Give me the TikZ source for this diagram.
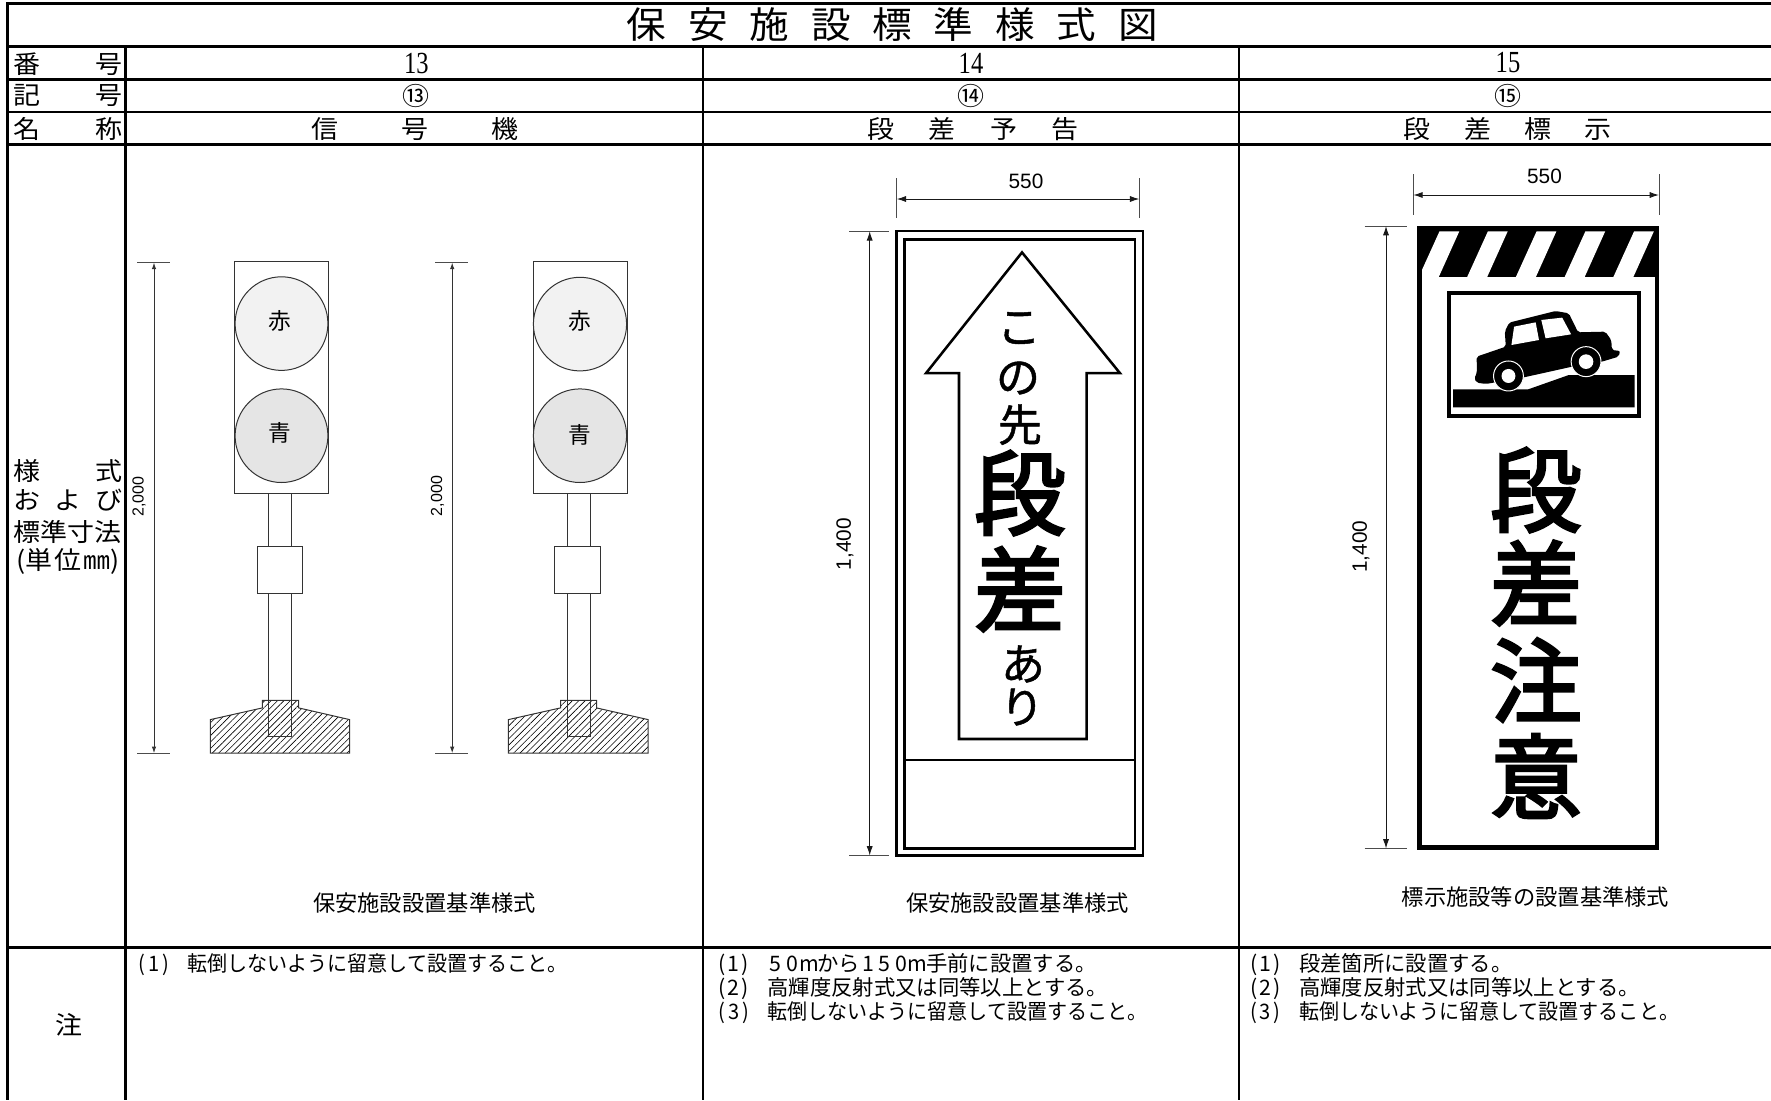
\documentclass[tikz,border=0pt]{standalone}
\usepackage{fontspec}
\setsansfont{Liberation Sans}
\newfontfamily\jp{Noto Sans CJK JP}
\newfontfamily\jpwide[FakeStretch=1.08]{Noto Sans CJK JP}
\newfontfamily\jpnarrow[FakeStretch=.94]{Noto Sans CJK JP}
\newfontfamily\jpsemi[FakeBold=1]{Noto Sans CJK JP}
\newfontfamily\jpheavy[FakeBold=3]{Noto Sans CJK JP}
\newfontfamily\digitfont{Liberation Serif}
\usetikzlibrary{arrows.meta}
\usetikzlibrary{patterns.meta}
\newcommand{\spread}[2]{\makebox[#1][s]{#2}}
\newcommand{\numcell}[1]{\makebox[38.5pt][l]{\makebox[8.8pt]{(}\makebox[8.8pt]{#1}\makebox[8.8pt]{)}}}
\newcommand{\wcell}[1]{\makebox[12.4pt]{#1}}
\tikzset{
  heavy/.style={line width=2.6pt},
  midrule/.style={line width=1.9pt},
  thinrule/.style={line width=1.5pt},
  part/.style={draw=black!80,line width=0.75pt},
  dimline/.style={black!80,line width=0.75pt,{Latex[length=5pt,width=3.4pt]}-{Latex[length=5pt,width=3.4pt]}},
  bigdim/.style={black!90,line width=0.75pt,{Latex[length=7pt,width=4.6pt]}-{Latex[length=7pt,width=4.6pt]}},
  ticks/.style={black!70,line width=0.75pt},
  head/.style={inner sep=0pt,font=\jpwide\fontsize{18.75}{20}\selectfont},
  digits/.style={inner sep=0pt,font=\digitfont\fontsize{23}{24}\selectfont},
  lamptext/.style={inner sep=0pt,font=\jp\fontsize{17}{18}\selectfont},
  dimtext/.style={inner sep=0pt,font=\sffamily\fontsize{15.6}{16}\selectfont},
  smalldim/.style={inner sep=0pt,font=\sffamily\fontsize{12}{13}\selectfont,rotate=90},
  caption/.style={inner sep=0pt,font=\jp\fontsize{16.7}{18}\selectfont},
  notetext/.style={inner sep=0pt,anchor=west,font=\jpnarrow\fontsize{16}{17}\selectfont},
  notewide/.style={notetext,font=\jp\fontsize{16}{17}\selectfont},
  signbig/.style={inner sep=0pt,font=\jpheavy\fontsize{69}{70}\selectfont},
  signsmall/.style={inner sep=0pt,font=\jpsemi\fontsize{33}{34}\selectfont},
  hatch/.style={pattern={Lines[angle=45,distance=3.4pt,line width=0.45pt]}},
}

\begin{document}
\begin{tikzpicture}[x=0.75pt,y=0.75pt,yscale=-1,xscale=1]
\fill [white] (0,0) rectangle (1771,1100);
\useasboundingbox (0,0) rectangle (1771,1100);

%Table rules
\draw [heavy] (1771,3.6) -- (7.3,3.6) -- (7.3,1100);
\draw [thinrule,line width=2.3pt] (7.3,46.4) -- (1771,46.4);
\draw [heavy] (7.3,79.6) -- (1771,79.6);
\draw [midrule,line width=1.6pt] (7.3,111.8) -- (1771,111.8);
\draw [heavy] (7.3,144.6) -- (1771,144.6);
\draw [midrule] (7.3,947.5) -- (1771,947.5);
\draw [midrule] (125.3,46.4) -- (125.3,1100);
\draw [midrule] (703,46.4) -- (703,1100);
\draw [midrule] (1239,46.4) -- (1239,1100);

% Header Text
\node [inner sep=0pt,font=\jpwide\fontsize{27.5}{28}\selectfont] (title) at (892.3,24.3) {\spread{398pt}{保\hfil 安\hfil 施\hfil 設\hfil 標\hfil 準\hfil 様\hfil 式\hfil 図}};
\node [head] (bango) at (68,64) {\spread{82.5pt}{番\hfil 号}};
\node [head] (kigo) at (68,95.7) {\spread{82.5pt}{記\hfil 号}};
\node [head] (meisho) at (68,128.6) {\spread{82.5pt}{名\hfil 称}};
\node [head] (yoshiki) at (68,471.4) {\spread{82.5pt}{様\hfil 式}};
\node [head] (oyobi) at (68,500) {\spread{82.5pt}{お\hfil よ\hfil び}};
\node [head] (hyojun) at (68,532) {\spread{82.5pt}{標準寸法}};
\node [head] (tani) at (68,561.5) {\spread{77pt}{(単\hfil 位\hfil ㎜)}};
\node [head] (chu) at (69,1025) {注};
\node [digits] (n13) at (416.4,63) {\scalebox{.8}[1]{13}};
\node [digits] (n14) at (971,63) {\scalebox{.8}[1]{14}};
\node [digits] (n15) at (1508,63) {\scalebox{.8}[1]{15}};
\node [head] (k13) at (416.4,95.7) {⑬};
\node [head] (k14) at (971,95.7) {⑭};
\node [head] (k15) at (1508,95.7) {⑮};
\node [head] (m13) at (415,128.6) {\spread{154.8pt}{信\hfil 号\hfil 機}};
\node [head] (m14) at (973,128.6) {\spread{158pt}{段\hfil 差\hfil 予\hfil 告}};
\node [head] (m15) at (1507.7,128.6) {\spread{156pt}{段\hfil 差\hfil 標\hfil 示}};

%Shape: Signal, left
\draw [part,hatch] (210.3,753.2) -- (210.3,719.6) -- (262.4,707.9) -- (262.4,700.4) -- (298.7,700.4) -- (298.7,707.9) -- (349.6,719.6) -- (349.6,753.2) -- cycle;
\draw [part] (268.9,493.2) rectangle (291.4,736.4);
\draw [part,fill=white] (257.4,546) rectangle (302.5,593.2);
\draw [part,fill=white] (234.6,261.8) rectangle (328.3,493.2);
\draw [part,fill=black!5] (281.5,323.6) ellipse [x radius=46.4,y radius=46.8];
\draw [part,fill=black!10] (281.5,435.7) ellipse [x radius=46.4,y radius=46.8];
\node [lamptext] (akaL) at (280,321.4) {赤};
\node [lamptext] (aoL) at (280,433) {青};

%Shape: Signal, right
\draw [part,hatch] (508.4,753.2) -- (508.4,719.6) -- (560.5,707.9) -- (560.5,700.4) -- (596.5,700.4) -- (596.5,707.9) -- (648.1,719.6) -- (648.1,753.2) -- cycle;
\draw [part] (567.8,493.2) rectangle (590.3,736.4);
\draw [part,fill=white] (554.7,546) rectangle (600.3,593.2);
\draw [part,fill=white] (533,261.8) rectangle (627.2,493.2);
\draw [part,fill=black!5] (580,324.1) ellipse [x radius=46.6,y radius=46.8];
\draw [part,fill=black!10] (580,435.7) ellipse [x radius=46.6,y radius=46.8];
\node [lamptext] (akaR) at (580,321.4) {赤};
\node [lamptext] (aoR) at (580,435) {青};

%Dimensions, signal
\draw [ticks] (137,262.5) -- (170.3,262.5);
\draw [ticks] (137,753.2) -- (170.3,753.2);
\draw [dimline] (154,262.5) -- (154,753.2);
\draw [ticks] (435.2,262.5) -- (468.3,262.5);
\draw [ticks] (435.2,753.2) -- (468.3,753.2);
\draw [dimline] (452.2,262.5) -- (452.2,753.2);
\node [smalldim] (hL) at (139,496.4) {2,000};
\node [smalldim] (hR) at (437.5,496) {2,000};

%Shape: Sign 14
\draw [line width=1.9pt] (896.6,231.2) rectangle (1143,855.5);
\draw [line width=1.9pt] (904.7,239.7) rectangle (1135,848.4);
\draw [line width=1.4pt] (904.7,760.2) -- (1135,760.2);
\draw [line width=1.9pt,line join=miter] (1022,252.4) -- (1120,373.2) -- (1086.7,373.2) -- (1086.7,739) -- (959,739) -- (959,373.2) -- (926,373.2) -- cycle;
\node [signsmall] (kono1) at (1019,328) {こ};
\node [signsmall] (kono2) at (1018,378) {の};
\node [signsmall] (saki) at (1020,424.6) {先};
\node [signbig] (dan14) at (1020,493) {段};
\node [signbig] (sa14) at (1020,589) {差};
\node [signsmall] (ari1) at (1023,664) {あ};
\node [signsmall] (ari2) at (1022,707) {り};

%Dimensions, sign 14
\draw [ticks] (896.7,178.3) -- (896.7,218.4);
\draw [ticks] (1139.3,178.3) -- (1139.3,218.4);
\draw [bigdim] (896.7,199) -- (1139.3,199);
\node [dimtext] (w14) at (1026,181.6) {550};
\draw [ticks] (849.3,231.2) -- (889.3,231.2);
\draw [ticks] (849.3,855.5) -- (889.3,855.5);
\draw [bigdim] (869.7,231.2) -- (869.7,855.5);
\node [dimtext,rotate=90] (h14) at (845,544) {1,400};

%Shape: Sign 15
\fill (1417,226.7) rectangle (1659.2,276.7);
\foreach \tl in {1439.5,1487.9,1536.6,1585.4,1634.1}
  \fill [white] (\tl,231.3) -- (\tl+19.8,231.3) -- (\tl-0.7,276.9) -- (\tl-20.7,276.9) -- cycle;
\draw [line width=3.4pt] (1419.3,228.3) rectangle (1657,847.5);
\draw [line width=3pt] (1449,293) rectangle (1638.7,416.3);
\fill (1453.2,389.3) -- (1528.3,389.3) -- (1568.8,375) -- (1634.6,375) -- (1634.6,407.3) -- (1453.2,407.3) -- cycle;
\begin{scope}[shift={(1340,150)},xscale=0.3316,yscale=0.3333]
\fill [rounded corners=1.5pt] (405,685) -- (413,668) -- (412,620) -- (500,590) -- (497,545) -- (510,518) -- (650,483) -- (690,490) -- (718,547) -- (800,545) -- (818,570) -- (820,600) -- (845,603) -- (840,620) -- (790,635) -- (700,650) -- (555,682) -- (440,702) -- (412,698) -- cycle;
\fill [white] (525,530) -- (590,517) -- (600,570) -- (517,585) -- cycle;
\fill [white] (607,510) -- (670,503) -- (697,553) -- (620,565) -- cycle;
\draw [white,fill=black,line width=0.75pt] (508,678) circle [radius=45];
\draw [white,fill=black,line width=0.75pt] (742,635) circle [radius=45];
\fill [white] (508,678) circle [radius=21];
\fill [white] (742,635) circle [radius=22];
\end{scope}
\node [signbig] (dan15) at (1536,490) {段};
\node [signbig] (sa15) at (1536,583) {差};
\node [signbig] (chui1) at (1536,680) {注};
\node [signbig] (chui2) at (1536,776) {意};

%Dimensions, sign 15
\draw [ticks] (1413.3,174) -- (1413.3,215);
\draw [ticks] (1659,174) -- (1659,215);
\draw [bigdim] (1413.3,195) -- (1659,195);
\node [dimtext] (w15) at (1544.5,176.7) {550};
\draw [ticks] (1364.5,226) -- (1407,226);
\draw [ticks] (1364.5,848.5) -- (1407,848.5);
\draw [bigdim] (1386,226) -- (1386,848.5);
\node [dimtext,rotate=90] (h15) at (1361,546.7) {1,400};

% Caption Text
\node [caption] (cap13) at (424.5,902.5) {保安施設設置基準様式};
\node [caption] (cap14) at (1017.5,903) {保安施設設置基準様式};
\node [caption] (cap15) at (1535.5,896.7) {標示施設等の設置基準様式};

% Note Text
\node [notetext] (a1) at (136,964.3) {\numcell{1}転倒しないように留意して設置すること。};
\node [notewide] (b1) at (716,964.3) {\numcell{1}\wcell{5}\wcell{0}\wcell{m}から\wcell{1}\wcell{5}\wcell{0}\wcell{m}手前に設置する。};
\node [notewide] (b2) at (716,988.3) {\numcell{2}高輝度反射式又は同等以上とする。};
\node [notetext] (b3) at (716,1013) {\numcell{3}転倒しないように留意して設置すること。};
\node [notewide] (c1) at (1247.5,964.3) {\numcell{1}段差箇所に設置する。};
\node [notewide] (c2) at (1247.5,988.3) {\numcell{2}高輝度反射式又は同等以上とする。};
\node [notetext] (c3) at (1247.5,1013) {\numcell{3}転倒しないように留意して設置すること。};

\end{tikzpicture}
\end{document}
